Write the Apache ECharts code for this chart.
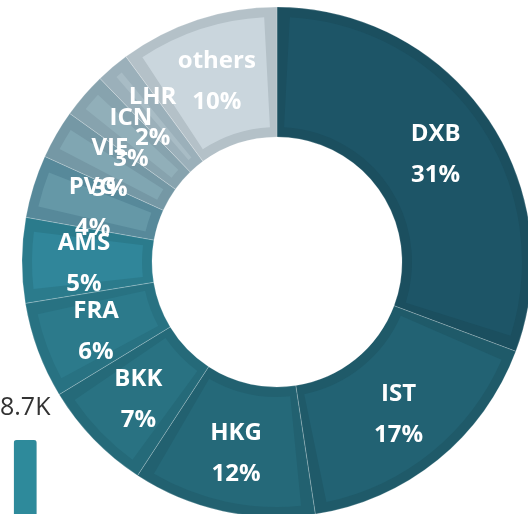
<!DOCTYPE html>
<html>
<head>
<meta charset="utf-8">
<script src="https://cdn.jsdelivr.net/npm/echarts@6/dist/echarts.min.js"></script>
<style>
  html, body { margin: 0; padding: 0; background: #fff; }
  #box { width: 528px; height: 514px; }
</style>
</head>
<body>
<div id="box"></div>
<script>
// airport share (passengers)
var airports = ['DXB', 'IST', 'HKG', 'BKK', 'FRA', 'AMS', 'PVG', 'VIE', 'ICN', 'LHR', 'others'];
var passengers = [8700, 4790, 3290, 2010, 1730, 1530, 1130, 880, 820, 600, 2860];
var maxLabel = '8.7K';

// inner fill / edge band colours
var fillColors = ['#1d5567', '#226273', '#256979', '#297282', '#2c7a8b', '#30869a',
                  '#6598a7', '#80a6b2', '#91afb9', '#a8bcc5', '#cad6dd'];
var bandColors = ['#1b4f5f', '#1f5a69', '#226170', '#256a79', '#287282', '#2b7b8c',
                  '#57899a', '#7598a5', '#87a3ae', '#9bb0ba', '#b4c1c8'];

var chart = echarts.init(document.getElementById('box'));

function build(colors) {
    return airports.map(function (n, i) {
        return { name: n, value: passengers[i], itemStyle: { color: colors[i] } };
    });
}

var option = {
    animation: false,
    visualMap: {
        type: 'continuous',
        seriesIndex: [],
        min: 0,
        max: 8700,
        text: [maxLabel, '0'],
        calculable: false,
        left: -15,
        top: 380,
        itemWidth: 23,
        itemHeight: 160,
        textGap: 20,
        inRange: { color: ['#2e8a9b'] },
        textStyle: { color: '#333', fontSize: 25, fontFamily: 'Open Sans' }
    },
    series: [
        {
            type: 'pie',
            center: [277, 262],
            radius: [125, 255],
            startAngle: 90,
            silent: true,
            label: { show: false },
            labelLine: { show: false },
            itemStyle: { borderWidth: 0.6, borderColor: 'rgba(255,255,255,0.35)' },
            data: build(bandColors)
        },
        {
            type: 'pie',
            center: [277, 262],
            radius: [135, 245],
            startAngle: 90,
            padAngle: 6,
            avoidLabelOverlap: false,
            labelLayout: { hideOverlap: false },
            label: {
                show: true,
                position: 'inside',
                color: '#fff',
                fontSize: 24,
                fontWeight: 'bold',
                fontFamily: 'Open Sans',
                lineHeight: 41,
                offset: [0, 3],
                formatter: function (p) {
                    return p.name + '\n' + Math.round(p.percent) + '%';
                }
            },
            labelLine: { show: false },
            data: build(fillColors)
        }
    ]
};

chart.setOption(option);
</script>
</body>
</html>
